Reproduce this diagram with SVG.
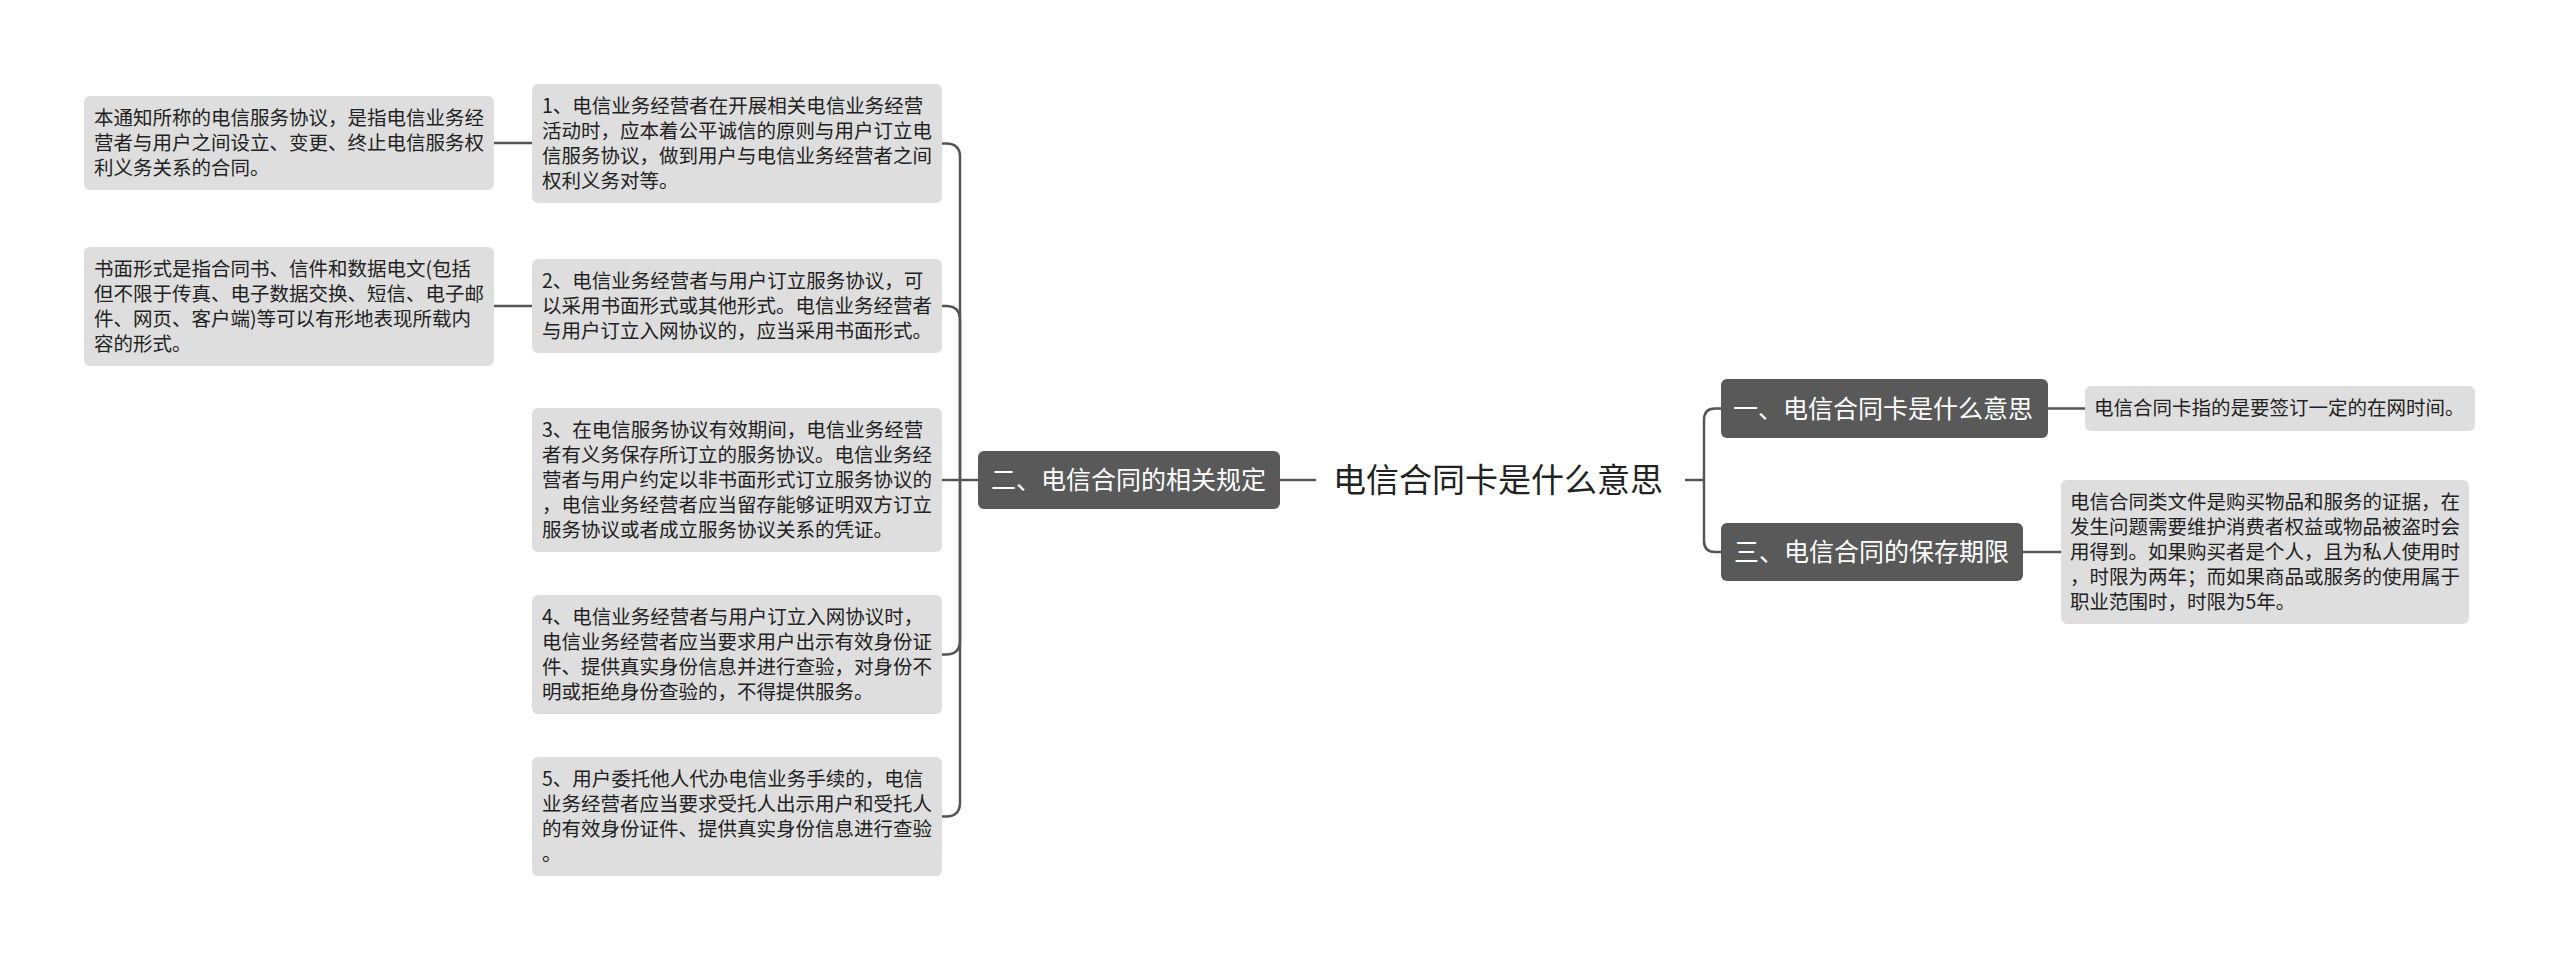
<svg xmlns="http://www.w3.org/2000/svg" width="2560" height="961" viewBox="0 0 2560 961">
<style>
.leaf{fill:#dedede}
.dark{fill:#595959}
.t{font-family:"Noto Sans CJK SC","Noto Sans",sans-serif;font-size:19.5px;fill:#222}
.tb{font-family:"Noto Sans CJK SC","Noto Sans",sans-serif;font-size:25px;fill:#ffffff}
.root{font-family:"Noto Sans CJK SC","Noto Sans",sans-serif;font-size:33px;fill:#222}
.c{fill:none;stroke:#555;stroke-width:2.5}
</style>
<rect width="2560" height="961" fill="#ffffff"/>
<g id="connectors">
<path class="c" d="M494,143 H532"/>
<path class="c" d="M494,306 H532"/>
<path class="c" d="M978,480 H960"/>
<path class="c" d="M960,480 V157 Q960,143.5 946,143.5 H942"/>
<path class="c" d="M960,480 V320 Q960,306 946,306 H942"/>
<path class="c" d="M960,480 H942"/>
<path class="c" d="M960,480 V640.5 Q960,654.5 946,654.5 H942"/>
<path class="c" d="M960,480 V802.5 Q960,816.5 946,816.5 H942"/>
<path class="c" d="M1280,480 H1316"/>
<path class="c" d="M1685,480 H1704"/>
<path class="c" d="M1704,480 V420 Q1704,408.5 1715,408.5 H1721"/>
<path class="c" d="M1704,480 V541 Q1704,552 1715,552 H1721"/>
<path class="c" d="M2048,408.5 H2085"/>
<path class="c" d="M2023,552 H2061"/>
</g>
<g id="root">
<text class="root" x="1333" y="491.5">电信合同卡是什么意思</text>
</g>
<g id="branch2">
<rect class="dark" x="978" y="451" width="302" height="58" rx="6"/>
<text class="tb" x="991" y="489">二、电信合同的相关规定</text>
</g>
<g id="branch1">
<rect class="dark" x="1721" y="379" width="327" height="59" rx="6"/>
<text class="tb" x="1733" y="417.5">一、电信合同卡是什么意思</text>
</g>
<g id="branch3">
<rect class="dark" x="1721" y="523" width="302" height="58" rx="6"/>
<text class="tb" x="1734" y="561">三、电信合同的保存期限</text>
</g>
<g id="leaf-r1">
<rect class="leaf" x="2085" y="386" width="390" height="45" rx="6"/>
<text class="t" x="2094" y="415">电信合同卡指的是要签订一定的在网时间。</text>
</g>
<g id="leaf-r3">
<rect class="leaf" x="2061" y="480" width="408" height="144" rx="6"/>
<text class="t" x="2070" y="508.5">电信合同类文件是购买物品和服务的证据，在</text>
<text class="t" x="2070" y="533.5">发生问题需要维护消费者权益或物品被盗时会</text>
<text class="t" x="2070" y="558.5">用得到。如果购买者是个人，且为私人使用时</text>
<text class="t" x="2070" y="583.5">，时限为两年；而如果商品或服务的使用属于</text>
<text class="t" x="2070" y="608.5">职业范围时，时限为5年。</text>
</g>
<g id="n1">
<rect class="leaf" x="532" y="84" width="410" height="119" rx="6"/>
<text class="t" x="542" y="112.5">1、电信业务经营者在开展相关电信业务经营</text>
<text class="t" x="542" y="137.5">活动时，应本着公平诚信的原则与用户订立电</text>
<text class="t" x="542" y="162.5">信服务协议，做到用户与电信业务经营者之间</text>
<text class="t" x="542" y="187.5">权利义务对等。</text>
</g>
<g id="n2">
<rect class="leaf" x="532" y="259" width="410" height="94" rx="6"/>
<text class="t" x="542" y="287.5">2、电信业务经营者与用户订立服务协议，可</text>
<text class="t" x="542" y="312.5">以采用书面形式或其他形式。电信业务经营者</text>
<text class="t" x="542" y="337.5">与用户订立入网协议的，应当采用书面形式。</text>
</g>
<g id="n3">
<rect class="leaf" x="532" y="408" width="410" height="144" rx="6"/>
<text class="t" x="542" y="436.5">3、在电信服务协议有效期间，电信业务经营</text>
<text class="t" x="542" y="461.5">者有义务保存所订立的服务协议。电信业务经</text>
<text class="t" x="542" y="486.5">营者与用户约定以非书面形式订立服务协议的</text>
<text class="t" x="542" y="511.5">，电信业务经营者应当留存能够证明双方订立</text>
<text class="t" x="542" y="536.5">服务协议或者成立服务协议关系的凭证。</text>
</g>
<g id="n4">
<rect class="leaf" x="532" y="595" width="410" height="119" rx="6"/>
<text class="t" x="542" y="623.5">4、电信业务经营者与用户订立入网协议时，</text>
<text class="t" x="542" y="648.5">电信业务经营者应当要求用户出示有效身份证</text>
<text class="t" x="542" y="673.5">件、提供真实身份信息并进行查验，对身份不</text>
<text class="t" x="542" y="698.5">明或拒绝身份查验的，不得提供服务。</text>
</g>
<g id="n5">
<rect class="leaf" x="532" y="757" width="410" height="119" rx="6"/>
<text class="t" x="542" y="785.5">5、用户委托他人代办电信业务手续的，电信</text>
<text class="t" x="542" y="810.5">业务经营者应当要求受托人出示用户和受托人</text>
<text class="t" x="542" y="835.5">的有效身份证件、提供真实身份信息进行查验</text>
<text class="t" x="542" y="860.5">。</text>
</g>
<g id="l1">
<rect class="leaf" x="84" y="96" width="410" height="94" rx="6"/>
<text class="t" x="94" y="124.5">本通知所称的电信服务协议，是指电信业务经</text>
<text class="t" x="94" y="149.5">营者与用户之间设立、变更、终止电信服务权</text>
<text class="t" x="94" y="174.5">利义务关系的合同。</text>
</g>
<g id="l2">
<rect class="leaf" x="84" y="247" width="410" height="119" rx="6"/>
<text class="t" x="94" y="275.5">书面形式是指合同书、信件和数据电文(包括</text>
<text class="t" x="94" y="300.5">但不限于传真、电子数据交换、短信、电子邮</text>
<text class="t" x="94" y="325.5">件、网页、客户端)等可以有形地表现所载内</text>
<text class="t" x="94" y="350.5">容的形式。</text>
</g>
</svg>
